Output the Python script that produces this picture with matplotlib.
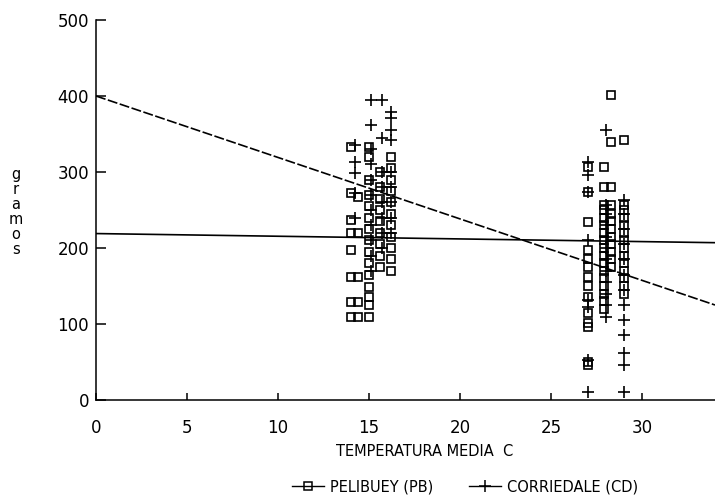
import matplotlib
matplotlib.use("Agg")
import matplotlib.pyplot as plt
from matplotlib.lines import Line2D

plt.rcParams["font.family"] = ["DejaVu Sans"]

# Regression lines (value at x=0 and at x=34)
line_x = [0, 34]
pb_fit = [219, 207]
cd_fit = [400, 125]

# PELIBUEY (PB) observations, grouped by temperature column
pb_x = [14.0, 14.4, 15.0, 15.6, 16.2, 27.0, 27.9, 28.3, 29.0]
pb_y = [
    [333, 272, 237, 220, 197, 162, 129, 109],
    [267, 220, 162, 129, 109],
    [333, 320, 290, 270, 255, 240, 225, 210, 195, 180, 165, 149, 135, 125, 109],
    [300, 280, 265, 250, 235, 220, 205, 190, 175],
    [320, 305, 290, 275, 260, 245, 230, 215, 200, 185, 170],
    [307, 274, 234, 197, 185, 175, 162, 150, 136, 114, 101, 96, 50, 46],
    [307, 280, 257, 250, 240, 230, 220, 210, 200, 190, 180, 170, 160, 150, 140, 130, 120],
    [401, 339, 280, 257, 245, 235, 225, 215, 205, 195, 185, 175],
    [342, 257, 250, 240, 230, 220, 210, 200, 190, 180, 170, 160, 150, 140],
]

# CORRIEDALE (CD) observations
cd_x = [14.2, 15.1, 15.7, 16.2, 27.0, 28.0, 29.0]
cd_y = [
    [335, 313, 299, 272, 240],
    [395, 362, 330, 310, 290, 270, 250, 230, 210, 190, 170],
    [395, 345, 300, 280, 260, 240, 220, 200],
    [379, 371, 355, 342, 300, 280, 260, 240, 220],
    [313, 296, 274, 211, 132, 122, 53, 11],
    [355, 257, 245, 230, 215, 200, 185, 170, 155, 140, 125, 109],
    [263, 245, 225, 205, 185, 165, 145, 125, 105, 86, 62, 46, 11],
]

yticks = [0, 100, 200, 300, 400, 500]
xticks = [0, 5, 10, 15, 20, 25, 30]

fig = plt.figure(figsize=(7.15, 5.04), dpi=100)
ax = fig.add_axes([96 / 715, 1 - 400 / 504, 1 - 96 / 715, 380 / 504])

ax.plot(line_x, pb_fit, color="black", lw=1.2)
ax.plot(line_x, cd_fit, color="black", lw=1.2, ls=(0, (6, 1.5)))

for x, ys in zip(pb_x, pb_y):
    ax.plot([x] * len(ys), ys, ls="none", marker="s", ms=5.5, mfc="none",
            mec="black", mew=1.2)
for x, ys in zip(cd_x, cd_y):
    ax.plot([x] * len(ys), ys, ls="none", marker="+", ms=9, mec="black", mew=1.2)

ax.set_xlim(0, 34)
ax.set_ylim(0, 500)
ax.set_xticks(xticks)
ax.set_yticks(yticks)
ax.spines["top"].set_visible(False)
ax.spines["right"].set_visible(False)
ax.spines["left"].set_linewidth(1.1)
ax.spines["bottom"].set_linewidth(1.1)
ax.tick_params(axis="y", direction="in", length=7, width=1.1, pad=5, labelsize=12)
ax.tick_params(axis="x", direction="in", length=5, width=1.1, pad=14, labelsize=12)
ax.set_clip_on(False)

fig.text(425 / 715, 1 - 451 / 504, "TEMPERATURA MEDIA  C", ha="center", va="center",
         fontsize=10.5)
fig.text(16 / 715, 1 - 212 / 504, "g\nr\na\nm\no\ns", ha="center", va="center",
         fontsize=10.5, linespacing=1.0)

handles = [
    Line2D([], [], color="black", lw=1, marker="s", ms=5.5, mfc="none", mew=1.1),
    Line2D([], [], color="black", lw=1, marker="+", ms=9, mew=1.1),
]
fig.legend(handles, ["PELIBUEY (PB)", "CORRIEDALE (CD)"], loc="center",
           bbox_to_anchor=(465 / 715, 1 - 487 / 504), ncol=2, frameon=False,
           fontsize=10.5, handlelength=2.2, columnspacing=2.5, handletextpad=0.4)

fig.savefig("out.png", dpi=100)
